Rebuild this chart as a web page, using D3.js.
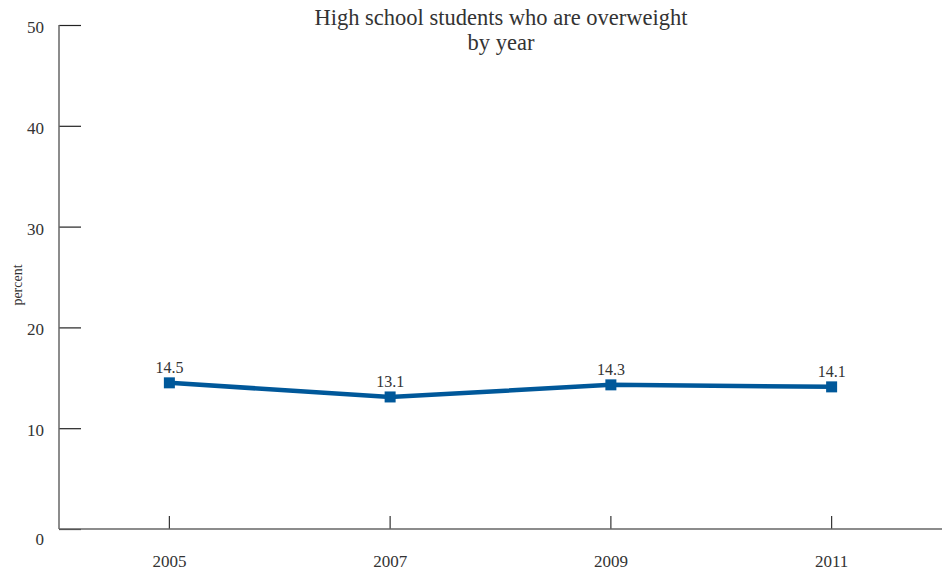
<!DOCTYPE html>
<html><head><meta charset="utf-8">
<script src="https://cdn.jsdelivr.net/npm/d3@7"></script>
<style>
body{margin:0;background:#fff;}
text{font-family:"Liberation Serif","DejaVu Serif",serif;fill:#333;}
</style></head>
<body><svg id="c" width="948" height="574"></svg>
<script>
const years = ["2005","2007","2009","2011"];
const values = [14.5, 13.1, 14.3, 14.1];
const yTicks = [0,10,20,30,40,50];
const titleLines = ["High school students who are overweight","by year"];
const yLabel = "percent";

(function(){
const svg = d3.select("#c");
const mLeft = 59, mRight = 942, mTop = 25, mBottom = 529;
const x = d3.scaleBand().domain(years).range([mLeft, mRight]);
const y = d3.scaleLinear().domain([0,50]).range([mBottom, mTop]);
const cx = d => x(d) + x.bandwidth()/2;

// y axis
const yAxis = svg.append("g").attr("transform",`translate(${mLeft},0)`)
  .call(d3.axisRight(y).tickValues(yTicks).tickSize(22).tickFormat(""));
yAxis.select(".domain").remove();
yAxis.selectAll("line").attr("stroke","#222").attr("stroke-width",1.2);
svg.append("line").attr("x1",mLeft).attr("x2",mLeft).attr("y1",mTop).attr("y2",mBottom)
  .attr("stroke","#666").attr("stroke-width",1.5);
svg.append("g").selectAll("text").data(yTicks).join("text")
  .attr("x",44).attr("y",d => y(d) + (d===0 ? 16 : 8))
  .attr("text-anchor","end").attr("font-size",17).text(d=>d);

// x axis
const xAxis = svg.append("g").attr("transform",`translate(0,${mBottom})`)
  .call(d3.axisTop(x).tickSize(13).tickFormat(""));
xAxis.select(".domain").remove();
xAxis.selectAll("line").attr("stroke","#333").attr("stroke-width",1.2);
svg.append("line").attr("x1",mLeft).attr("x2",mRight).attr("y1",mBottom).attr("y2",mBottom)
  .attr("stroke","#666").attr("stroke-width",1.5);
svg.append("g").selectAll("text").data(years).join("text")
  .attr("x",d=>cx(d)).attr("y",567).attr("text-anchor","middle").attr("font-size",17).text(d=>d);

// y label
svg.append("text").attr("transform","translate(22,285) rotate(-90)")
  .attr("text-anchor","middle").attr("font-size",14).text(yLabel);

// title
svg.append("g").selectAll("text").data(titleLines).join("text")
  .attr("x",501).attr("y",(d,i)=>25+i*25).attr("text-anchor","middle").attr("font-size",22.5).text(d=>d);

// line
const pts = years.map((yr,i)=>({yr,v:values[i]}));
svg.append("path").datum(pts)
  .attr("d", d3.line().x(d=>cx(d.yr)).y(d=>y(d.v)))
  .attr("fill","none").attr("stroke","#00589a").attr("stroke-width",4.5);
svg.append("g").selectAll("rect").data(pts).join("rect")
  .attr("x",d=>cx(d.yr)-5.5).attr("y",d=>y(d.v)-5.5).attr("width",11).attr("height",11)
  .attr("fill","#00589a");
svg.append("g").selectAll("text").data(pts).join("text")
  .attr("x",d=>cx(d.yr)).attr("y",d=>y(d.v)-10).attr("text-anchor","middle")
  .attr("font-size",16).text(d=>d.v.toFixed(1));
})();
</script></body></html>
